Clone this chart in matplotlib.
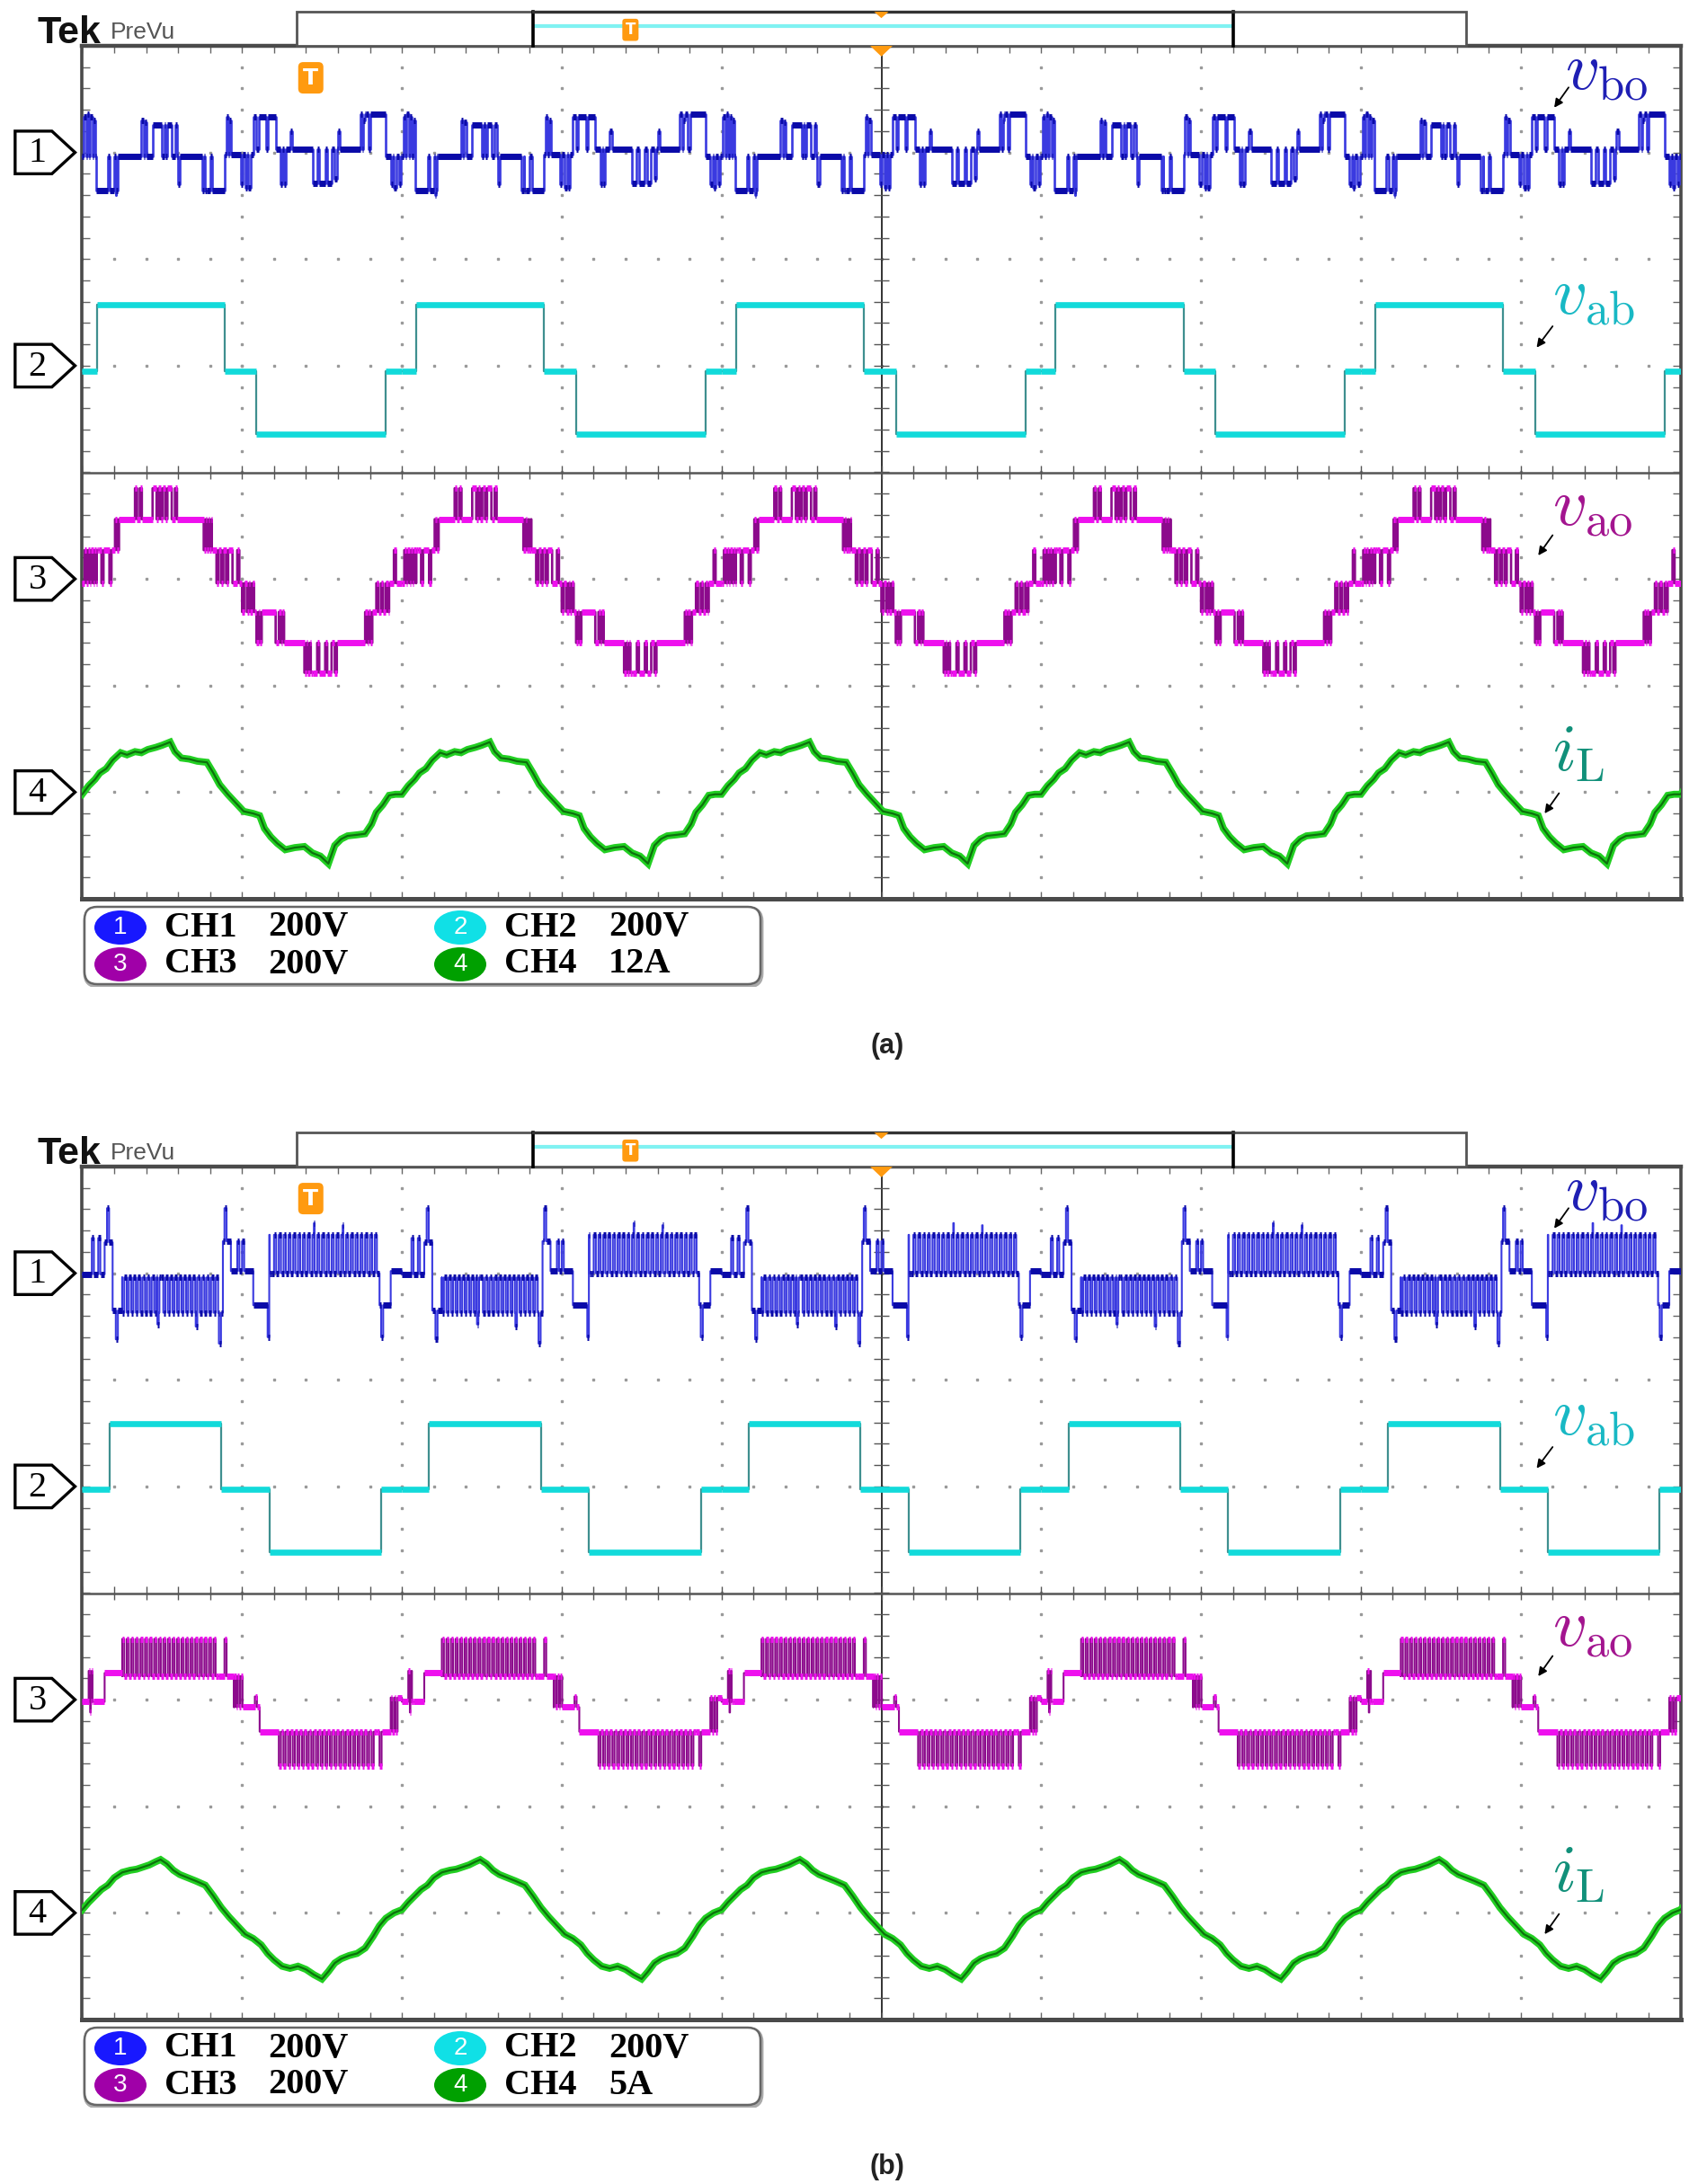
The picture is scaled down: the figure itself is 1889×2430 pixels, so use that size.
import numpy as np
import matplotlib
matplotlib.use('Agg')
import matplotlib.pyplot as plt
from matplotlib.patches import Polygon, Rectangle, FancyBboxPatch, Ellipse

plt.rcParams['mathtext.fontset'] = 'cm'

W, H = 1890, 2430
PERIOD = 2.0      # one fundamental cycle = 2 horizontal divisions
N_PER = 5

# screen position of the channel ground markers (divisions from centre)
ch_offset = [3.0, 1.0, -1.0, -3.0]

# ---------------- capture (a) ----------------
# step traces: segment start times within one period (div) and levels (div)
a_vbo_t = [0.00, 0.085, 0.22, 0.44, 0.56, 0.77, 0.89, 1.07, 1.21, 1.44, 1.56, 1.77, 1.90]
a_vbo_v = [-0.04, -0.36, -0.04, 0.26, -0.04, -0.36, -0.02, 0.33, 0.03, -0.29, 0.03, 0.36, -0.04]
a_vbo_spk = [(0.01, 0.33), (0.03, 0.36), (0.05, 0.33), (0.07, 0.30), (0.16, -0.04), (0.20, -0.04),
             (0.21, -0.40), (0.37, 0.30), (0.39, 0.28), (0.50, -0.04), (0.52, -0.04), (0.58, 0.26),
             (0.60, -0.30), (0.75, -0.36), (0.765, -0.36), (0.80, -0.04), (0.90, 0.33), (0.92, 0.30),
             (0.99, -0.30), (1.02, -0.33), (1.04, -0.33), (1.09, 0.03), (1.15, 0.03), (1.24, -0.30),
             (1.26, -0.30), (1.30, 0.20), (1.47, 0.03), (1.52, 0.03), (1.58, -0.25), (1.60, 0.20),
             (1.74, 0.36), (1.76, 0.30), (1.79, 0.03), (1.93, -0.30), (1.95, -0.33), (1.98, -0.30)]

a_vab_t = [0.00, 0.09, 0.89, 1.09, 1.90]
a_vab_v = [-0.05, 0.57, -0.05, -0.64, -0.05]

a_vao_t = [0.00, 0.10, 0.23, 0.44, 0.56, 0.81, 0.94, 1.075, 1.21, 1.44, 1.56, 1.815, 1.92]
a_vao_v = [-0.04, 0.27, 0.56, 0.85, 0.56, 0.27, -0.04, -0.31, -0.60, -0.88, -0.60, -0.31, -0.04]
a_vao_spk = [(0.015, 0.27), (0.035, 0.27), (0.055, 0.27), (0.075, 0.27), (0.09, 0.27), (0.12, -0.04),
             (0.17, -0.04), (0.205, 0.56), (0.215, 0.56), (0.33, 0.85), (0.36, 0.85), (0.465, 0.56),
             (0.49, 0.56), (0.52, 0.56), (0.58, 0.85), (0.76, 0.27), (0.78, 0.27), (0.795, 0.27),
             (0.84, -0.04), (0.87, -0.04), (0.90, -0.04), (0.97, 0.27), (1.00, -0.31), (1.03, -0.31),
             (1.05, -0.31), (1.09, -0.60), (1.11, -0.60), (1.23, -0.31), (1.25, -0.31), (1.39, -0.88),
             (1.41, -0.88), (1.43, -0.88), (1.47, -0.60), (1.52, -0.60), (1.58, -0.88), (1.77, -0.31),
             (1.79, -0.31), (1.80, -0.31), (1.84, -0.04), (1.87, -0.04), (1.90, -0.04), (1.95, 0.27)]

a_il_t = [0.00, 0.04, 0.08, 0.11, 0.15, 0.19, 0.24, 0.28, 0.33, 0.37, 0.41, 0.46, 0.50, 0.55, 0.58,
          0.62, 0.67, 0.72, 0.78, 0.82, 0.86, 0.91, 0.96, 1.01, 1.07, 1.11, 1.14, 1.18, 1.22, 1.27,
          1.33, 1.39, 1.44, 1.49, 1.54, 1.58, 1.62, 1.66, 1.72, 1.77, 1.81, 1.84, 1.88, 1.92, 1.96]
a_il_v = [-0.02, 0.06, 0.12, 0.18, 0.22, 0.30, 0.37, 0.35, 0.38, 0.37, 0.40, 0.42, 0.44, 0.47, 0.38,
          0.32, 0.31, 0.29, 0.28, 0.18, 0.07, -0.02, -0.10, -0.18, -0.20, -0.22, -0.34, -0.42, -0.48, -0.54,
          -0.52, -0.51, -0.57, -0.60, -0.67, -0.50, -0.44, -0.41, -0.40, -0.39, -0.30, -0.19, -0.12, -0.03, -0.02]

# ---------------- capture (b) ----------------
b_vbo_t = [0.00, 0.14, 0.19, 0.25, 0.85, 0.88, 0.93, 1.07, 1.17, 1.86, 1.93]
b_vbo_v = [-0.01, 0.29, -0.35, -0.04, -0.37, 0.30, 0.02, -0.30, 0.00, -0.30, 0.02]
b_vbo_pwm = [(0.25, 0.85, -0.37, 21), (1.17, 1.86, 0.36, 23)]
b_vbo_spk = [(0.06, 0.33), (0.10, 0.33), (0.155, 0.61), (0.21, -0.62), (0.855, -0.66), (0.89, 0.61),
             (0.97, 0.30), (1.00, 0.30), (1.16, -0.60), (1.87, -0.60), (0.47, -0.48), (0.71, -0.50),
             (1.45, 0.47), (1.63, 0.45)]

b_vab_t = [0.00, 0.17, 0.87, 1.17, 1.87]
b_vab_v = [-0.03, 0.59, -0.03, -0.62, -0.03]

b_vao_t = [0.00, 0.14, 0.25, 0.85, 0.95, 1.11, 1.23, 1.84, 1.93]
b_vao_v = [-0.02, 0.25, 0.22, 0.22, -0.07, -0.30, -0.30, -0.30, 0.02]
b_vao_pwm = [(0.25, 0.85, 0.57, 21), (1.23, 1.84, -0.62, 21)]
b_vao_spk = [(0.04, 0.27), (0.06, 0.27), (0.05, -0.12), (0.89, 0.57), (0.95, 0.22), (0.97, 0.22),
             (0.99, 0.22), (1.08, 0.03), (1.86, -0.62), (1.94, -0.30), (1.96, -0.30)]

b_il_t = [0.00, 0.04, 0.08, 0.12, 0.16, 0.20, 0.25, 0.30, 0.34, 0.38, 0.42, 0.46, 0.49, 0.53, 0.57,
          0.61, 0.66, 0.71, 0.77, 0.82, 0.87, 0.92, 0.97, 1.02, 1.07, 1.12, 1.16, 1.20, 1.25, 1.30,
          1.35, 1.40, 1.45, 1.50, 1.54, 1.58, 1.62, 1.67, 1.72, 1.77, 1.82, 1.86, 1.90, 1.95]
b_il_v = [0.03, 0.10, 0.16, 0.22, 0.26, 0.33, 0.38, 0.40, 0.41, 0.43, 0.45, 0.48, 0.50, 0.46, 0.40,
          0.36, 0.33, 0.30, 0.26, 0.16, 0.05, -0.04, -0.12, -0.20, -0.24, -0.30, -0.38, -0.44, -0.50, -0.52,
          -0.50, -0.53, -0.58, -0.62, -0.55, -0.47, -0.43, -0.40, -0.38, -0.33, -0.22, -0.12, -0.05, 0.00]

legend_a = ['CH1   200V', 'CH2   200V', 'CH3   200V', 'CH4   12A']
legend_b = ['CH1   200V', 'CH2   200V', 'CH3   200V', 'CH4   5A']

badge_colors = ['#1818ff', '#10e0e6', '#a000a8', '#00a000']
labels = [r'$v_{\mathrm{bo}}$', r'$v_{\mathrm{ab}}$', r'$v_{\mathrm{ao}}$', r'$i_{\mathrm{L}}$']
label_colors = ['#1f1fb4', '#18b8c4', '#a3158f', '#11907a']


def build_steps(seg_t, seg_v, spikes=(), pwm=(), width=0.013, duty=0.45):
    bt, bv = [], []
    for k in range(N_PER + 1):
        for t, v in zip(seg_t, seg_v):
            bt.append(k * PERIOD + t)
            bv.append(v)
    bt = np.array(bt)
    bv = np.array(bv)

    def base(t):
        i = np.searchsorted(bt, t, side='right') - 1
        return bv[max(i, 0)]

    events = list(zip(bt, bv))
    for k in range(N_PER + 1):
        off = k * PERIOD
        pulses = [(off + t, off + t + width, lvl) for t, lvl in spikes]
        for t0, t1, lvl, n in pwm:
            dt = (t1 - t0) / n
            pulses += [(off + t0 + j * dt, off + t0 + (j + duty) * dt, lvl) for j in range(n)]
        for s, e, lvl in pulses:
            events.append((s, lvl))
            events.append((e, base(e)))
    events.sort(key=lambda p: p[0])
    t = np.array([e[0] for e in events] + [N_PER * PERIOD + 1])
    v = np.array([e[1] for e in events] + [events[-1][1]])
    return t, v


def tile(ts, vs):
    t = np.concatenate([np.array(ts) + k * PERIOD for k in range(N_PER + 1)])
    v = np.tile(np.array(vs), N_PER + 1)
    return t, v


def draw_step(ax, t, v, off, c_vert, c_hor, lw_v=1.3, lw_h=4.2):
    ax.step(t, v + off, where='post', color=c_vert, lw=lw_v, zorder=3)
    ax.hlines(v[:-1] + off, t[:-1], t[1:], color=c_hor, lw=lw_h, zorder=4)


def draw_graticule(ax):
    mx = np.arange(0, 10.001, 0.2)
    my = np.arange(-4, 4.001, 0.2)
    for gx in [1, 2, 3, 4, 6, 7, 8, 9]:
        ax.plot(np.full_like(my, gx), my, ls='none', marker='s', ms=1.5, color='#9a9a9a', zorder=1)
    for gy in [-3, -2, -1, 1, 2, 3]:
        ax.plot(mx, np.full_like(mx, gy), ls='none', marker='s', ms=1.5, color='#9a9a9a', zorder=1)
    ax.axvline(5, color='#222222', lw=1.3, zorder=2)
    ax.axhline(0, color='#555555', lw=1.8, zorder=2)
    th, tw = 0.065, 0.045
    ax.vlines(mx, -th, th, color='#555555', lw=1.0, zorder=2)
    ax.hlines(my, 5 - tw, 5 + tw, color='#555555', lw=1.0, zorder=2)
    ax.vlines(mx, 4 - th, 4, color='#666666', lw=1.0, zorder=2)
    ax.vlines(mx, -4, -4 + th, color='#666666', lw=1.0, zorder=2)
    ax.hlines(my, 0, tw, color='#666666', lw=1.0, zorder=2)
    ax.hlines(my, 10 - tw, 10, color='#666666', lw=1.0, zorder=2)


def draw_panel(top_px, d, legend_txt, caption, lw_pwm):
    ax = fig.add_axes([91.5 / W, 1 - (top_px + 949) / H, 1778 / W, 949 / H])
    ax.set_xlim(0, 10)
    ax.set_ylim(-4, 4)
    ax.set_xticks([])
    ax.set_yticks([])
    for s in ax.spines.values():
        s.set_color('#4a4a4a')
        s.set_linewidth(2.6)
    ax.spines['top'].set_linewidth(3.2)
    ax.spines['bottom'].set_linewidth(3.6)
    draw_graticule(ax)

    # traces
    t, v = build_steps(d['vbo_t'], d['vbo_v'], d['vbo_spk'], d.get('vbo_pwm', ()))
    draw_step(ax, t, v, ch_offset[0], '#3a3ae0', '#0a0aa8', lw_pwm, 5.0)
    t, v = build_steps(d['vab_t'], d['vab_v'])
    draw_step(ax, t, v, ch_offset[1], '#3f8f8f', '#12dada', 1.6, 4.8)
    t, v = build_steps(d['vao_t'], d['vao_v'], d['vao_spk'], d.get('vao_pwm', ()))
    draw_step(ax, t, v, ch_offset[2], '#8c0a8c', '#ee10ee', lw_pwm, 5.0)
    t, v = tile(d['il_t'], d['il_v'])
    ax.plot(t, v + ch_offset[3], color='#22cf22', lw=5.6, zorder=3, solid_joinstyle='miter')
    ax.plot(t, v + ch_offset[3], color='#0d700d', lw=1.6, zorder=4)

    # channel ground markers
    for i, off in enumerate(ch_offset):
        pent = Polygon([(-0.42, off - 0.2), (-0.19, off - 0.2), (-0.045, off),
                        (-0.19, off + 0.2), (-0.42, off + 0.2)], closed=True,
                       fc='white', ec='black', lw=2.4, clip_on=False, zorder=6)
        ax.add_patch(pent)
        ax.text(-0.28, off - 0.01, str(i + 1), ha='center', va='center', fontsize=29,
                family='Liberation Serif', clip_on=False, zorder=7)

    # trace labels with arrows
    lab = [(9.28, 0.59, (9.30, 0.61), (9.21, 0.42)),
           (9.20, 0.48, (9.20, 0.37), (9.10, 0.17)),
           (9.20, 0.50, (9.20, 0.41), (9.11, 0.22)),
           (9.20, 0.20, (9.24, -0.01), (9.15, -0.20))]
    for i, (lx, ly, a0, a1) in enumerate(lab):
        off = ch_offset[i]
        ax.text(lx, off + ly, labels[i], color=label_colors[i], fontsize=54,
                ha='left', va='baseline', zorder=8)
        ax.annotate('', xy=(a1[0], off + a1[1]), xytext=(a0[0], off + a0[1]),
                    arrowprops=dict(arrowstyle='-|>', color='black', lw=1.3,
                                    mutation_scale=14, shrinkA=0, shrinkB=0), zorder=8)

    # record-view bar above the screen
    ax.add_patch(Rectangle((1.34, 4.0), 7.32, 0.32, fc='white', ec='#555555', lw=2.0,
                           clip_on=False, zorder=5))
    ax.plot([2.83, 7.19], [4.185, 4.185], color='#80f2f2', lw=3, clip_on=False, zorder=6)
    for xb in (2.82, 7.20):
        ax.plot([xb, xb], [4.0, 4.32], color='black', lw=2.6, clip_on=False, zorder=6)
    ax.plot([2.82, 7.20], [4.32, 4.32], color='#333333', lw=2.4, clip_on=False, zorder=6)
    ax.add_patch(Polygon([(4.955, 4.32), (5.045, 4.32), (5.0, 4.26)], fc='#ff9a10', ec='none',
                         clip_on=False, zorder=7))
    ax.text(3.43, 4.15, 'T', color='white', fontsize=12, fontweight='bold', ha='center',
            va='center', family='DejaVu Sans', clip_on=False, zorder=7,
            bbox=dict(boxstyle='round,pad=0.2', fc='#ff9a10', ec='none'))
    # trigger markers
    ax.add_patch(Polygon([(4.93, 4.0), (5.07, 4.0), (5.0, 3.9)], fc='#ff9a10', ec='none',
                         clip_on=False, zorder=7))
    ax.text(1.43, 3.70, 'T', color='white', fontsize=18, fontweight='bold', ha='center',
            va='center', family='DejaVu Sans', zorder=7,
            bbox=dict(boxstyle='round,pad=0.22', fc='#ff9a10', ec='none'))

    # header
    fig.text(42 / W, 1 - (top_px - 3) / H, 'Tek', fontsize=31, fontweight='bold',
             family='Liberation Sans', va='baseline', color='#111111')
    fig.text(123 / W, 1 - (top_px - 8) / H, 'PreVu', fontsize=19,
             family='Liberation Sans', va='baseline', color='#555555')

    # legend box
    lt = top_px + 956
    lax = fig.add_axes([92 / W, 1 - (lt + 91) / H, 758 / W, 91 / H])
    lax.set_xlim(0, 758)
    lax.set_ylim(0, 91)
    lax.axis('off')
    lax.add_patch(FancyBboxPatch((3, 1), 752, 86, boxstyle='round,pad=0,rounding_size=14',
                                 fc='none', ec='#aaaaaa', lw=3.5))
    lax.add_patch(FancyBboxPatch((2, 3), 752, 86, boxstyle='round,pad=0,rounding_size=14',
                                 fc='white', ec='#666666', lw=1.8))
    cols = [(42, 91, 206), (420, 469, 585)]
    rows = [66, 25]
    for i, txt in enumerate(legend_txt):
        bx, tx, vx = cols[i % 2]
        by = rows[i // 2]
        lax.add_patch(Ellipse((bx, by), 58, 38, fc=badge_colors[i], ec='none'))
        lax.text(bx, by, str(i + 1), color='white', fontsize=20, ha='center', va='center',
                 family='Liberation Sans')
        name, val = txt.split()
        lax.text(tx, by, name, fontsize=29, fontweight='bold', family='Liberation Serif',
                 ha='left', va='center')
        lax.text(vx, by, val, fontsize=29, fontweight='bold', family='Liberation Serif',
                 ha='left', va='center')

    fig.text(987 / W, 1 - (top_px + 1113) / H, caption, ha='center', va='center',
             fontsize=22, fontweight='bold', family='Liberation Sans', color='#222222')
    return ax


fig = plt.figure(figsize=(W / 100, H / 100), dpi=100)
fig.patch.set_facecolor('white')

data_a = dict(vbo_t=a_vbo_t, vbo_v=a_vbo_v, vbo_spk=a_vbo_spk,
              vab_t=a_vab_t, vab_v=a_vab_v,
              vao_t=a_vao_t, vao_v=a_vao_v, vao_spk=a_vao_spk,
              il_t=a_il_t, il_v=a_il_v)
data_b = dict(vbo_t=b_vbo_t, vbo_v=b_vbo_v, vbo_spk=b_vbo_spk, vbo_pwm=b_vbo_pwm,
              vab_t=b_vab_t, vab_v=b_vab_v,
              vao_t=b_vao_t, vao_v=b_vao_v, vao_spk=b_vao_spk, vao_pwm=b_vao_pwm,
              il_t=b_il_t, il_v=b_il_v)

draw_panel(51, data_a, legend_a, '(a)', 1.9)
draw_panel(1298, data_b, legend_b, '(b)', 1.5)

fig.savefig('out.png', dpi=100, facecolor='white')
